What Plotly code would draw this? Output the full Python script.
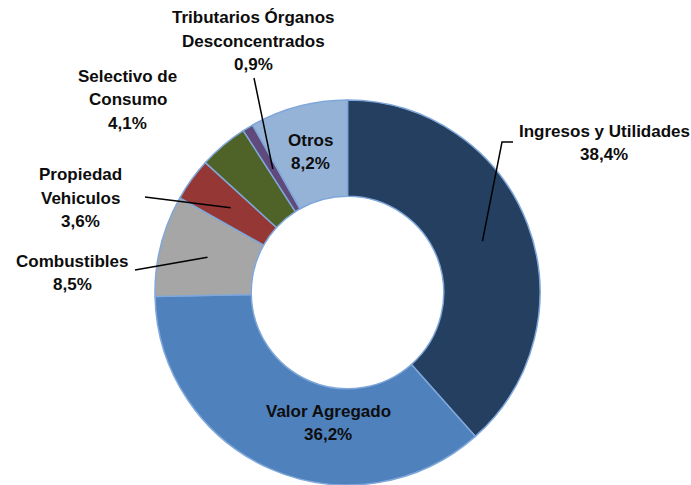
import math
import plotly.graph_objects as go

W, H = 691, 485

# Data
labels = ["Ingresos y Utilidades", "Valor Agregado", "Combustibles", "Propiedad Vehiculos",
          "Selectivo de Consumo", "Tributarios Órganos Desconcentrados", "Otros"]
values = [38.4, 36.2, 8.5, 3.6, 4.1, 0.9, 8.2]
label_lines = [["Ingresos y Utilidades", "38,4%"], ["Valor Agregado", "36,2%"],
               ["Combustibles", "8,5%"], ["Propiedad", "Vehiculos", "3,6%"],
               ["Selectivo de", "Consumo", "4,1%"],
               ["Tributarios Órganos", "Desconcentrados", "0,9%"], ["Otros", "8,2%"]]
colors = ["#243F60", "#4F81BD", "#A6A6A6", "#953735", "#4F6228", "#604A7B", "#95B3D7"]

# Layout of the donut in pixels
CX, CY, R = 347.5, 292.5, 192.5
HOLE = 0.5
PITCH = 23.5

# label centres (pixels) and leader line outer points (None = no leader)
label_pos = [(604, 143), (328, 423), (72, 273), (80, 198), (128, 100), (253, 41), (310, 152)]
leader_end = [[(513, 142), (502, 142)], None, [(135, 270)], [(145, 197)], None, [(254, 78)], None]

FONT = dict(family="Liberation Sans Narrow, Arial Narrow, Liberation Sans, Arial, sans-serif",
            size=17, color="#0d0d0d")


def px(x):
    return x / W


def py(y):
    return 1 - y / H


fig = go.Figure()
fig.add_trace(go.Pie(
    labels=labels,
    values=values,
    sort=False,
    direction="clockwise",
    rotation=0,
    hole=HOLE,
    textinfo="none",
    hoverinfo="label+percent",
    marker=dict(colors=colors, line=dict(color="#7FA7D9", width=1.5)),
    domain=dict(x=[px(CX - R), px(CX + R)], y=[py(CY + R), py(CY - R)]),
    showlegend=False,
))

# leader lines start at slice mid points in the middle of the ring
total = sum(values)
r_mid = R * (1 + HOLE) / 2
cum = 0
shapes = []
for i, v in enumerate(values):
    ang = math.radians((cum + v / 2) / total * 360)
    cum += v
    if leader_end[i] is None:
        continue
    pts = [(CX + r_mid * math.sin(ang), CY - r_mid * math.cos(ang))] + leader_end[i][::-1]
    path = "M " + " L ".join(f"{px(x):.5f},{py(y):.5f}" for x, y in pts)
    shapes.append(dict(type="path", xref="paper", yref="paper", path=path,
                       line=dict(color="black", width=1.5), layer="above"))

annotations = []
for lines, (x, y) in zip(label_lines, label_pos):
    n = len(lines)
    for k, txt in enumerate(lines):
        yy = y + (k - (n - 1) / 2) * PITCH
        annotations.append(dict(
            x=px(x), y=py(yy), xref="paper", yref="paper", text="<b>" + txt + "</b>",
            showarrow=False, xanchor="center", yanchor="middle", font=FONT,
        ))

fig.update_layout(
    width=W, height=H,
    margin=dict(l=0, r=0, t=0, b=0),
    paper_bgcolor="white",
    plot_bgcolor="white",
    shapes=shapes,
    annotations=annotations,
)

fig.write_html("out.html", config={"displayModeBar": False},
               post_script="document.body.style.margin='0';")
